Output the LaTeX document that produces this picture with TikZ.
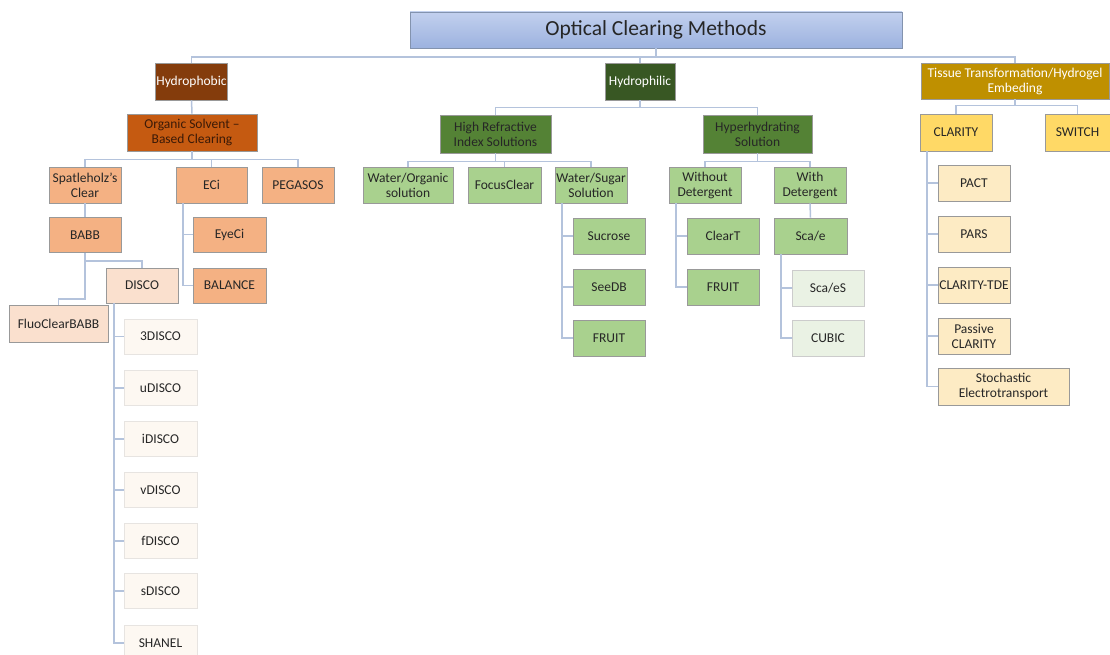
\documentclass[tikz,border=0pt]{standalone}
\usepackage{fontspec}
\setmainfont{Carlito}
\definecolor{conn}{HTML}{B4C3DC}
\definecolor{titletop}{HTML}{C2D0EE}
\definecolor{titlebot}{HTML}{9CB2DF}
\definecolor{titleedge}{HTML}{8393AE}
\definecolor{brownA}{HTML}{843C0C}
\definecolor{orangeB}{HTML}{C55A11}
\definecolor{peachC}{HTML}{F4B183}
\definecolor{peachD}{HTML}{FAE0CE}
\definecolor{peachE}{HTML}{FDF8F2}
\definecolor{greenA}{HTML}{385723}
\definecolor{greenB}{HTML}{548235}
\definecolor{greenC}{HTML}{A9D18E}
\definecolor{greenD}{HTML}{EAF2E4}
\definecolor{goldA}{HTML}{BF9000}
\definecolor{yellowB}{HTML}{FFD966}
\definecolor{creamC}{HTML}{FDEBC4}
\definecolor{txt}{HTML}{262626}
\definecolor{txtbrown}{HTML}{3B1A07}
\tikzset{
  box/.style={draw=black!40, line width=0.6pt, inner sep=1pt, align=center,
    font=\fontsize{13.5}{15}\selectfont, text=txt},
  bx/.style 2 args={box, minimum width=#1, minimum height=#2},
  dark/.style={text=white},
  cn/.style={draw=conn, line width=1.5pt},
}
\begin{document}
\begin{tikzpicture}[x=1pt,y=-1pt]
\useasboundingbox (0,0) rectangle (1110,655);
% level 0
\node[bx={492}{36}, top color=titletop, bottom color=titlebot, draw=titleedge,
  font=\fontsize{21.5}{25}\selectfont] (title) at (656,30) {Optical Clearing Methods};
% level 1
\node[bx={72}{37}, fill=brownA, dark] (hphob) at (191.5,81.5) {Hydrophobic};
\node[bx={70}{37}, fill=greenA, dark] (hphil) at (640,81.5) {Hydrophilic};
\node[bx={188}{36}, fill=goldA, dark] (tissue) at (1015,81) {Tissue Transformation/Hydrogel\\Embeding};
% level 2
\node[bx={130}{37}, fill=orangeB, text=txtbrown] (organic) at (192,132.5) {Organic Solvent --\\Based Clearing};
\node[bx={111}{38}, fill=greenB] (hri) at (495.5,134) {High Refractive\\Index Solutions};
\node[bx={109}{38}, fill=greenB] (hyper) at (757.5,134) {Hyperhydrating\\Solution};
\node[bx={72}{37}, fill=yellowB] (clarity) at (956,132.5) {CLARITY};
\node[bx={65}{37}, fill=yellowB] (switch) at (1077.5,132.5) {SWITCH};
% hydrophobic branch
\node[bx={72}{36}, fill=peachC] (spat) at (85,185) {Spatleholz's\\Clear};
\node[bx={71}{36}, fill=peachC] (eci) at (211.5,185) {ECi};
\node[bx={72}{36}, fill=peachC] (pegasos) at (298,185) {PEGASOS};
\node[bx={72}{35}, fill=peachC] (babb) at (85,235) {BABB};
\node[bx={73}{35}, fill=peachC] (eyeci) at (229.5,234.5) {EyeCi};
\node[bx={73}{35}, fill=peachC] (balance) at (229.5,285.5) {BALANCE};
\node[bx={72}{35}, fill=peachD] (disco) at (142,285.5) {DISCO};
\node[bx={99}{37}, fill=peachD] (fluo) at (58.5,324) {FluoClearBABB};
\tikzset{lt/.style={bx={73}{35}, fill=peachE, draw=peachE!85!black!60}}
\node[lt] (d3) at (160.5,336.5) {3DISCO};
\node[lt] (du) at (160.5,388) {uDISCO};
\node[lt] (di) at (160.5,439) {iDISCO};
\node[lt] (dv) at (160.5,490) {vDISCO};
\node[lt] (df) at (160.5,541) {fDISCO};
\node[lt] (ds) at (160.5,591) {sDISCO};
\node[lt] (dsh) at (160.5,643) {SHANEL};
% hydrophilic branch
\node[bx={90}{36}, fill=greenC] (wo) at (408,185) {Water/Organic\\solution};
\node[bx={73}{36}, fill=greenC] (focus) at (504.5,185) {FocusClear};
\node[bx={72}{36}, fill=greenC] (ws) at (591,185) {Water/Sugar\\Solution};
\node[bx={72}{36}, fill=greenC] (sucrose) at (609,236) {Sucrose};
\node[bx={72}{36}, fill=greenC] (seedb) at (609,287) {SeeDB};
\node[bx={72}{36}, fill=greenC] (fruitA) at (609,338) {FRUIT};
\node[bx={72}{36}, fill=greenC] (without) at (705,185) {Without\\Detergent};
\node[bx={72}{36}, fill=greenC] (with) at (810,185) {With\\Detergent};
\node[bx={72}{36}, fill=greenC] (cleart) at (723,236) {ClearT};
\node[bx={72}{36}, fill=greenC] (fruitB) at (723,287) {FRUIT};
\node[bx={73}{36}, fill=greenC] (scae) at (810.5,236) {Sca/e};
\node[bx={72}{36}, fill=greenD, draw=black!20] (scaes) at (828,288) {Sca/eS};
\node[bx={72}{36}, fill=greenD, draw=black!20] (cubic) at (828,338) {CUBIC};
% tissue branch
\node[bx={72}{36}, fill=creamC] (pact) at (974,183) {PACT};
\node[bx={72}{36}, fill=creamC] (pars) at (974,234) {PARS};
\node[bx={72}{36}, fill=creamC] (tde) at (974,285) {CLARITY-TDE};
\node[bx={72}{36}, fill=creamC] (passive) at (974,336) {Passive\\CLARITY};
\node[bx={131}{37}, fill=creamC] (stoch) at (1003.5,386.5) {Stochastic\\Electrotransport};
% connectors
\coordinate (tstem) at (656,57);
\draw[cn] (title.south) -- (tstem);
\draw[cn] (hphob.north) |- (tstem) -| (tissue.north);
\draw[cn] (hphil.north) -- (hphil.north |- tstem);
\draw[cn] (hphob.south) -- (organic.north);
\draw[cn] (hphil.south) -- ++(0,7) -| (hri.north);
\draw[cn] (hphil.south) -- ++(0,7) -| (hyper.north);
\draw[cn] (tissue.south) -- ++(0,6) -| (clarity.north);
\draw[cn] (tissue.south) -- ++(0,6) -| (switch.north);
\draw[cn] (organic.south) -- ++(0,8) -| (spat.north);
\draw[cn] (organic.south) -- ++(0,8) -| (eci.north);
\draw[cn] (organic.south) -- ++(0,8) -| (pegasos.north);
\draw[cn] (spat.south) -- (babb.north);
\draw[cn] ([xshift=-28.5pt]eci.south) |- (eyeci.west);
\draw[cn] ([xshift=-28.5pt]eci.south) |- (balance.west);
\draw[cn] (babb.south) -- ++(0,8) -| (disco.north);
\draw[cn] (babb.south) -- ++(0,46) -| (fluo.north);
\foreach \n in {d3,du,di,dv,df,ds,dsh}
  \draw[cn] ([xshift=-28pt]disco.south) |- (\n.west);
\draw[cn] (hri.south) -- ++(0,8) -| (wo.north);
\draw[cn] (hri.south) -- ++(0,8) -| (focus.north);
\draw[cn] (hri.south) -- ++(0,8) -| (ws.north);
\foreach \n in {sucrose,seedb,fruitA}
  \draw[cn] ([xshift=-29pt]ws.south) |- (\n.west);
\draw[cn] (hyper.south) -- ++(0,8) -| (without.north);
\draw[cn] (hyper.south) -- ++(0,8) -| (with.north);
\foreach \n in {cleart,fruitB}
  \draw[cn] ([xshift=-29pt]without.south) |- (\n.west);
\draw[cn] (with.south) -- (scae.north);
\foreach \n in {scaes,cubic}
  \draw[cn] ([xshift=-29.5pt]scae.south) |- (\n.west);
\foreach \n in {pact,pars,tde,passive,stoch}
  \draw[cn] ([xshift=-29pt]clarity.south) |- (\n.west);
\end{tikzpicture}
\end{document}
